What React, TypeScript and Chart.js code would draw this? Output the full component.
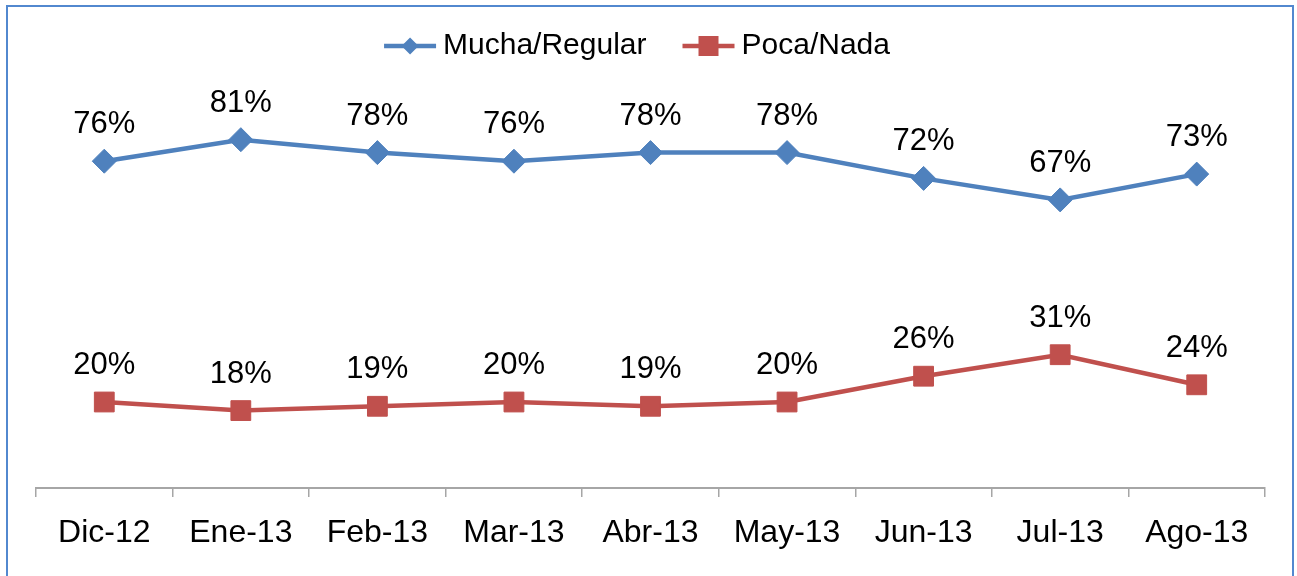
import React, { useEffect, useRef } from "react";
import { Chart, registerables } from "chart.js";

Chart.register(...registerables);

const categories = ["Dic-12", "Ene-13", "Feb-13", "Mar-13", "Abr-13", "May-13", "Jun-13", "Jul-13", "Ago-13"];
const muchaRegular = [76, 81, 78, 76, 78, 78, 72, 67, 73];
const pocaNada = [20, 18, 19, 20, 19, 20, 26, 31, 24];
const seriesNames = ["Mucha/Regular", "Poca/Nada"];
const seriesColors = ["#4F81BD", "#C0504D"];

const FONT = "'Liberation Sans', Arial, sans-serif";

const dataLabelsPlugin = {
  id: "dataLabels",
  afterDatasetsDraw(chart: any) {
    const ctx = chart.ctx;
    ctx.save();
    ctx.font = `31px ${FONT}`;
    ctx.fillStyle = "#000000";
    ctx.textAlign = "center";
    ctx.textBaseline = "alphabetic";
    chart.data.datasets.forEach((ds: any, i: number) => {
      const meta = chart.getDatasetMeta(i);
      meta.data.forEach((pt: any, j: number) => {
        ctx.fillText(`${ds.data[j]}%`, pt.x, pt.y - 28);
      });
    });
    ctx.restore();
  },
};

const legendPlugin = {
  id: "lineLegend",
  afterDraw(chart: any) {
    const ctx = chart.ctx;
    ctx.save();
    ctx.font = `30px ${FONT}`;
    const lineW = 52;
    const gapText = 7;
    const gapItems = 36;
    const items = chart.data.datasets.map((ds: any) => ({
      ds,
      tw: ctx.measureText(ds.label).width,
    }));
    const total =
      items.reduce((s: number, it: any) => s + lineW + gapText + it.tw, 0) + gapItems * (items.length - 1);
    let x = 637 - total / 2;
    const y = 46;
    items.forEach((it: any) => {
      const color = it.ds.borderColor;
      ctx.strokeStyle = color;
      ctx.lineWidth = 4.5;
      ctx.beginPath();
      ctx.moveTo(x, y);
      ctx.lineTo(x + lineW, y);
      ctx.stroke();
      const cx = x + lineW / 2;
      ctx.fillStyle = color;
      ctx.beginPath();
      if (it.ds.pointStyle === "rectRot") {
        const r = 8.5;
        ctx.moveTo(cx - r, y);
        ctx.lineTo(cx, y - r);
        ctx.lineTo(cx + r, y);
        ctx.lineTo(cx, y + r);
        ctx.closePath();
      } else {
        ctx.rect(cx - 10, y - 10, 20, 20);
      }
      ctx.fill();
      ctx.fillStyle = "#000000";
      ctx.textAlign = "left";
      ctx.textBaseline = "middle";
      ctx.fillText(it.ds.label, x + lineW + gapText, y);
      x += lineW + gapText + it.tw + gapItems;
    });
    ctx.restore();
  },
};

export default function App() {
  const canvasRef = useRef<HTMLCanvasElement | null>(null);

  useEffect(() => {
    if (!canvasRef.current) return;
    const chart = new Chart(canvasRef.current, {
      type: "line",
      data: {
        labels: categories,
        datasets: [
          {
            label: seriesNames[0],
            data: muchaRegular,
            borderColor: seriesColors[0],
            backgroundColor: seriesColors[0],
            borderWidth: 4.5,
            pointStyle: "rectRot",
            pointRadius: 12,
            pointBorderWidth: 1,
            tension: 0,
          },
          {
            label: seriesNames[1],
            data: pocaNada,
            borderColor: seriesColors[1],
            backgroundColor: seriesColors[1],
            borderWidth: 4.5,
            pointStyle: "rect",
            pointRadius: 14,
            pointBorderWidth: 1,
            tension: 0,
          },
        ],
      },
      options: {
        responsive: false,
        animation: false,
        layout: { padding: { left: 36, right: 32, top: 58, bottom: 0 } },
        plugins: {
          legend: { display: false },
          tooltip: { enabled: false },
        },
        scales: {
          x: {
            offset: true,
            grid: {
              offset: true,
              drawOnChartArea: false,
              drawTicks: true,
              tickLength: 9,
              color: "#A6A6A6",
              lineWidth: 1.5,
            },
            border: { display: true, color: "#A6A6A6", width: 2 },
            ticks: {
              color: "#000000",
              font: { family: FONT, size: 32 },
              padding: 17,
              maxRotation: 0,
              autoSkip: false,
            },
            afterFit: (axis: any) => {
              axis.height = 88;
            },
          },
          y: {
            display: false,
            min: 0,
            max: 100,
          },
        },
      },
      plugins: [dataLabelsPlugin, legendPlugin],
    });
    return () => chart.destroy();
  }, []);

  return (
    <div
      style={{
        position: "fixed",
        left: 0,
        top: 0,
        width: 1297,
        height: 576,
        overflow: "hidden",
        background: "#ffffff",
      }}
    >
      <div
        style={{
          position: "absolute",
          left: 6,
          top: 5,
          width: 1284,
          height: 620,
          border: "2px solid #5288CF",
        }}
      />
      <canvas
        ref={canvasRef}
        width={1297}
        height={576}
        style={{ position: "absolute", left: 0, top: 0, width: 1297, height: 576 }}
      />
    </div>
  );
}
